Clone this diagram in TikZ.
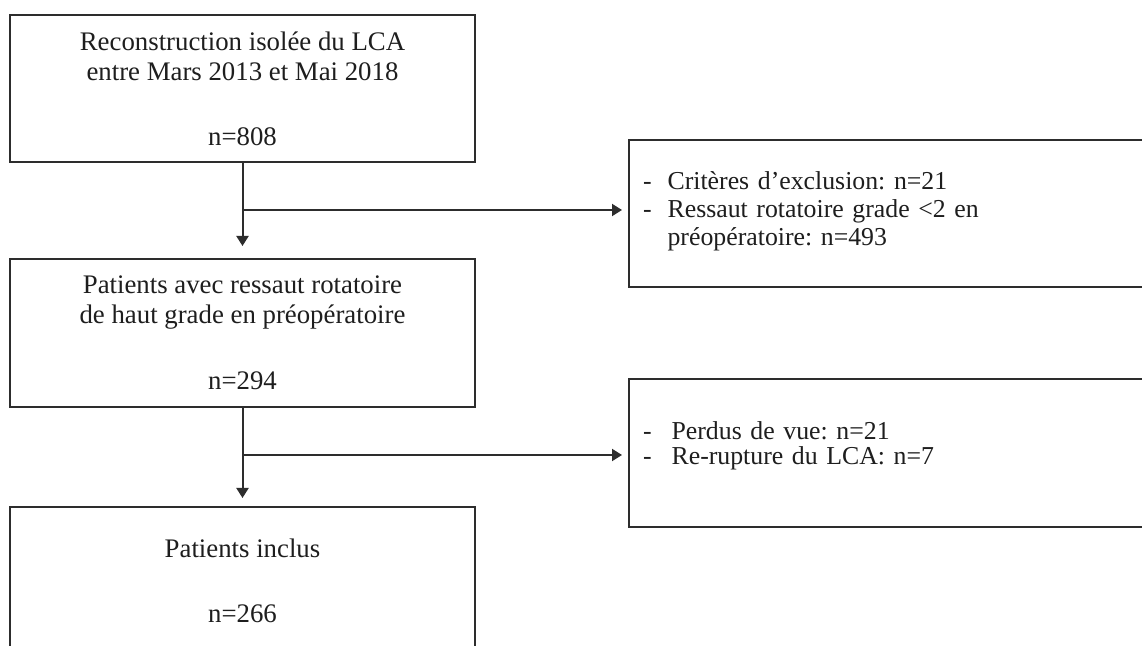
\documentclass[tikz,border=0pt]{standalone}
\usepackage{fontspec}
\setmainfont{Liberation Serif}
\frenchspacing
\usetikzlibrary{arrows.meta}
\definecolor{boxline}{RGB}{45,45,45}
\definecolor{boxtext}{RGB}{30,30,30}

\begin{document}
\begin{tikzpicture}[x=0.5pt,y=-0.5pt,
    flowbox/.style={rectangle,draw=boxline,line width=1pt,text=boxtext,minimum width=232.5pt,minimum height=74pt,align=center,inner sep=0pt,font=\fontsize{13.4}{15}\selectfont},
    exclbox/.style={rectangle,draw=boxline,line width=1pt,text=boxtext,minimum width=265pt,minimum height=73.5pt,text width=251pt,align=left,inner xsep=7pt,inner ysep=0pt,font=\fontsize{12.9}{14}\selectfont},
    flowarrow/.style={draw=boxline,line width=1pt,-{Triangle[length=5pt,width=6pt]}}]
    \useasboundingbox (0,0) rectangle (1142,646);
    \clip (0,0) rectangle (1142,646);
    \fill[white] (0,0) rectangle (1142,646);

        \node[flowbox,minimum height=73.5pt] (recon) at (242.5,88.5) {
            Reconstruction isolée du LCA\\entre Mars 2013 et Mai 2018\\[17.5pt]n=808
        };
        \node[flowbox] (highgrade) at (242.5,333) {
            Patients avec ressaut rotatoire\\de haut grade en préopératoire\\[18pt]n=294
        };
        \node[flowbox] (included) at (242.5,581) {
            Patients inclus\\[17.5pt]n=266
        };

        \node[exclbox] (excl1) at (894,214) {
            \begin{tabular}{@{}l@{\hspace{8pt}}l@{}}
            - & Critères d’exclusion: n=21\\
            - & Ressaut rotatoire grade <2 en\\
              & préopératoire: n=493\\[2pt]
            \end{tabular}
        };
        \node[exclbox,minimum height=74pt,font=\fontsize{12.9}{12.5}\selectfont] (excl2) at (894,453) {
            \begin{tabular}{@{}l@{\hspace{10pt}}l@{}}
            - & Perdus de vue: n=21\\
            - & Re-rupture du LCA: n=7\\[6pt]
            \end{tabular}
        };

        \coordinate[yshift=2pt] (tee1) at (recon.south |- excl1.west);
        \coordinate[yshift=-1pt] (tee2) at (highgrade.south |- excl2.west);

        \draw[flowarrow,shorten >=6pt] (recon) -- (highgrade);
        \draw[flowarrow,shorten >=3pt] (tee1) -- (tee1 -| excl1.west);
        \draw[flowarrow,shorten >=4pt] (highgrade) -- (included);
        \draw[flowarrow,shorten >=3pt] (tee2) -- (tee2 -| excl2.west);
    \end{tikzpicture}
\end{document}
